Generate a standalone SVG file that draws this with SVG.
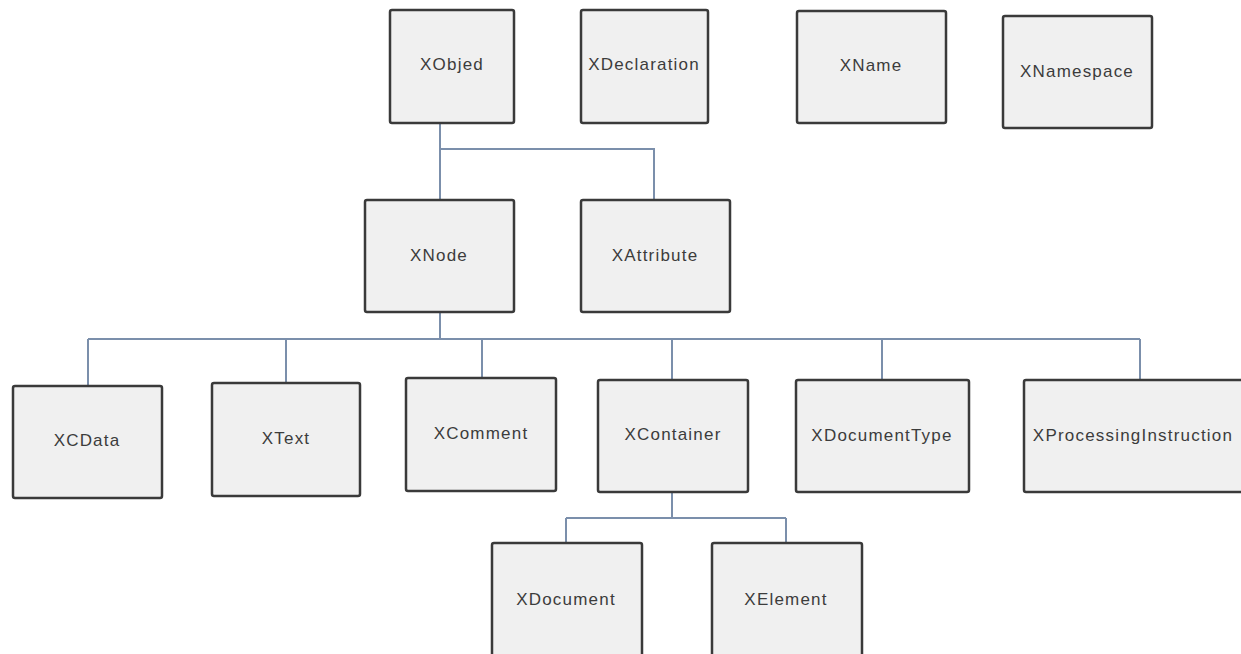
<svg xmlns="http://www.w3.org/2000/svg" width="1241" height="654" viewBox="0 0 1241 654">
<style>
.box{fill:#f0f0f0;stroke:#3a3a3a;stroke-width:2.5}
.lbl{font-family:"Liberation Sans",Arial,sans-serif;font-size:17px;letter-spacing:1.2px;fill:#3c3c3c;text-anchor:middle;dominant-baseline:central}
.conn{fill:none;stroke:#7b8fab;stroke-width:2}
</style>
<rect width="1241" height="654" fill="#ffffff"/>
<g id="connectors">
<path class="conn" d="M440 123V200M440 149H654V200"/>
<path class="conn" d="M440 312V339M88 339H1140M88 339V386M286 339V383M482 339V378M672 339V380M882 339V380M1140 339V380"/>
<path class="conn" d="M672 492V518M566 518H786M566 518V543M786 518V543"/>
</g>
<g id="XObjed"><rect class="box" x="390" y="10" width="124" height="113" rx="2"/><text class="lbl" x="452" y="64">XObjed</text></g>
<g id="XDeclaration"><rect class="box" x="581" y="10" width="127" height="113" rx="2"/><text class="lbl" x="644" y="64">XDeclaration</text></g>
<g id="XName"><rect class="box" x="797" y="11" width="149" height="112" rx="2"/><text class="lbl" x="871" y="65">XName</text></g>
<g id="XNamespace"><rect class="box" x="1003" y="16" width="149" height="112" rx="2"/><text class="lbl" x="1077" y="71">XNamespace</text></g>
<g id="XNode"><rect class="box" x="365" y="200" width="149" height="112" rx="2"/><text class="lbl" x="439" y="255">XNode</text></g>
<g id="XAttribute"><rect class="box" x="581" y="200" width="149" height="112" rx="2"/><text class="lbl" x="655" y="255">XAttribute</text></g>
<g id="XCData"><rect class="box" x="13" y="386" width="149" height="112" rx="2"/><text class="lbl" x="87" y="440">XCData</text></g>
<g id="XText"><rect class="box" x="212" y="383" width="148" height="113" rx="2"/><text class="lbl" x="286" y="438">XText</text></g>
<g id="XComment"><rect class="box" x="406" y="378" width="150" height="113" rx="2"/><text class="lbl" x="481" y="433">XComment</text></g>
<g id="XContainer"><rect class="box" x="598" y="380" width="150" height="112" rx="2"/><text class="lbl" x="673" y="434">XContainer</text></g>
<g id="XDocumentType"><rect class="box" x="796" y="380" width="173" height="112" rx="2"/><text class="lbl" x="882" y="435">XDocumentType</text></g>
<g id="XProcessingInstruction"><rect class="box" x="1024" y="380" width="240" height="112" rx="2"/><text class="lbl" x="1133" y="435">XProcessingInstruction</text></g>
<g id="XDocument"><rect class="box" x="492" y="543" width="150" height="130" rx="2"/><text class="lbl" x="566" y="599">XDocument</text></g>
<g id="XElement"><rect class="box" x="712" y="543" width="150" height="130" rx="2"/><text class="lbl" x="786" y="599">XElement</text></g>
</svg>
